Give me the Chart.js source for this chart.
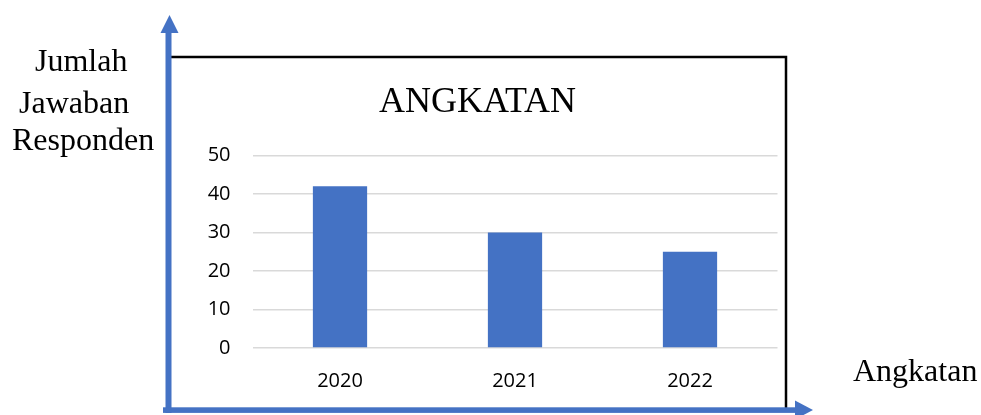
<!DOCTYPE html>
<html>
<head>
<meta charset="utf-8">
<script src="https://cdn.jsdelivr.net/npm/chart.js@4/dist/chart.umd.min.js"></script>
<style>
  html, body { margin: 0; padding: 0; background: #fff; }
  #wrap { position: relative; width: 981px; height: 415px; overflow: hidden; }
  #c { position: absolute; left: 0; top: 0; }
  .lbl { position: absolute; font-family: "Liberation Serif", "Times New Roman", serif; font-size: 32px; line-height: 32px; color: #000; white-space: nowrap; }
</style>
</head>
<body>
<div id="wrap">
  <canvas id="c" width="981" height="415"></canvas>
  <div class="lbl" style="left:35px; top:44px;">Jumlah</div>
  <div class="lbl" style="left:19px; top:86px;">Jawaban</div>
  <div class="lbl" style="left:12px; top:123px;">Responden</div>
  <div class="lbl" style="left:853px; top:354px;">Angkatan</div>
</div>
<script>
const chartTitle = 'ANGKATAN';
const categories = ['2020', '2021', '2022'];
const respondents = [42, 30, 25];
const yTickValues = [0, 10, 20, 30, 40, 50];

const BLUE = '#4472C4';

const frame = {
  id: 'frame',
  afterDraw(chart) {
    const ctx = chart.ctx;
    ctx.save();
    // black box
    ctx.strokeStyle = '#000';
    ctx.lineWidth = 2.5;
    ctx.beginPath();
    ctx.moveTo(170, 57);
    ctx.lineTo(786, 57);
    ctx.lineTo(786, 409);
    ctx.stroke();
    // vertical blue arrow
    ctx.fillStyle = BLUE;
    ctx.fillRect(165.5, 30, 6, 383);
    ctx.beginPath();
    ctx.moveTo(160.5, 33);
    ctx.lineTo(178.5, 33);
    ctx.lineTo(169.5, 15);
    ctx.closePath();
    ctx.fill();
    // horizontal blue arrow
    ctx.fillRect(163, 407.3, 634, 5.6);
    ctx.beginPath();
    ctx.moveTo(795, 400.5);
    ctx.lineTo(795, 419.5);
    ctx.lineTo(813, 410);
    ctx.closePath();
    ctx.fill();
    ctx.restore();
  }
};

new Chart(document.getElementById('c'), {
  type: 'bar',
  data: {
    labels: categories,
    datasets: [{
      data: respondents,
      backgroundColor: BLUE,
      borderWidth: 0,
      barPercentage: 0.31,
      categoryPercentage: 1
    }]
  },
  options: {
    responsive: false,
    animation: false,
    layout: { padding: { left: 177.5, right: 203.5, top: 57, bottom: 10 } },
    plugins: {
      legend: { display: false },
      tooltip: { enabled: false },
      title: {
        display: true,
        text: chartTitle,
        color: '#000',
        font: { family: 'Liberation Serif', size: 36, weight: 'normal', lineHeight: 1.2 },
        padding: { top: 24.4, bottom: 30.9 }
      }
    },
    scales: {
      x: {
        grid: { display: false, drawTicks: false },
        border: { display: false },
        ticks: { color: '#000', padding: 21, font: { family: 'Open Sans', size: 20 } },
        afterFit(s) { s.height = 57; }
      },
      y: {
        min: 0,
        max: 50,
        afterBuildTicks(s) { s.ticks = yTickValues.map(v => ({ value: v })); },
        grid: { color: '#d9d9d9', lineWidth: 1.6, drawTicks: false },
        border: { display: false },
        ticks: { color: '#000', padding: 22, font: { family: 'Open Sans', size: 20 } },
        afterFit(s) { s.width = 75; }
      }
    }
  },
  plugins: [frame]
});
</script>
</body>
</html>
